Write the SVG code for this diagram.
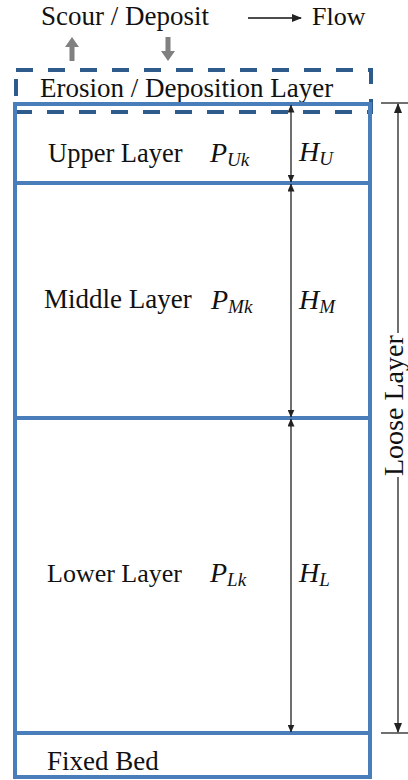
<svg xmlns="http://www.w3.org/2000/svg" width="408" height="780" viewBox="0 0 408 780">
<defs>
<marker id="ah" markerUnits="userSpaceOnUse" markerWidth="10" markerHeight="8" refX="9" refY="4" orient="auto-start-reverse">
<path d="M0,0 L10,4 L0,8 Z" fill="#222"/>
</marker>
<marker id="ahs" markerUnits="userSpaceOnUse" markerWidth="8" markerHeight="7" refX="7.5" refY="3.5" orient="auto-start-reverse">
<path d="M0,0 L8,3.5 L0,7 Z" fill="#222"/>
</marker>
</defs>

<g id="legend">
<text font-family="Liberation Serif" font-size="27" fill="#111" x="41" y="25">Scour / Deposit</text>
<path fill="#808080" d="M69.5,61 V47 H65 L72,37 L79,47 H74.5 V61 Z"/>
<path fill="#808080" d="M165.5,37 V51 H161 L168,61 L175,51 H170.5 V37 Z"/>
<line x1="248" y1="18" x2="301" y2="18" stroke="#111" stroke-width="1.5" marker-end="url(#ah)"/>
<text font-family="Liberation Serif" font-size="26" fill="#111" x="312" y="25">Flow</text>
</g>

<g id="erosion-layer">
<rect fill="none" stroke="#2e5a8c" stroke-width="4" stroke-dasharray="17 15" x="16" y="70" width="355" height="42"/>
<text font-family="Liberation Serif" font-size="27" fill="#111" x="40" y="97">Erosion / Deposition Layer</text>
</g>

<g id="upper-layer">
<rect fill="none" stroke="#4a7ebb" stroke-width="4" x="15" y="104" width="355" height="79"/>
<text font-family="Liberation Serif" font-size="26.5" fill="#111" x="48" y="162">Upper Layer</text>
<text font-family="Liberation Serif" font-style="italic" font-size="28" fill="#111" x="210" y="162">P<tspan font-size="19" dy="4">Uk</tspan></text>
<text font-family="Liberation Serif" font-style="italic" font-size="28" fill="#111" x="299" y="161">H<tspan font-size="19" dy="4">U</tspan></text>
</g>

<g id="middle-layer">
<rect fill="none" stroke="#4a7ebb" stroke-width="4" x="15" y="183" width="355" height="235"/>
<text font-family="Liberation Serif" font-size="27" fill="#111" x="44" y="308">Middle Layer</text>
<text font-family="Liberation Serif" font-style="italic" font-size="28" fill="#111" x="211" y="309">P<tspan font-size="19" dy="4">Mk</tspan></text>
<text font-family="Liberation Serif" font-style="italic" font-size="28" fill="#111" x="299" y="309">H<tspan font-size="19" dy="4">M</tspan></text>
</g>

<g id="lower-layer">
<rect fill="none" stroke="#4a7ebb" stroke-width="4" x="15" y="418" width="355" height="315"/>
<text font-family="Liberation Serif" font-size="26" fill="#111" x="47" y="582">Lower Layer</text>
<text font-family="Liberation Serif" font-style="italic" font-size="28" fill="#111" x="210" y="582">P<tspan font-size="19" dy="4">Lk</tspan></text>
<text font-family="Liberation Serif" font-style="italic" font-size="28" fill="#111" x="299" y="582">H<tspan font-size="19" dy="4">L</tspan></text>
</g>

<g id="fixed-bed">
<rect fill="none" stroke="#4a7ebb" stroke-width="4" x="15" y="733" width="355" height="44"/>
<text font-family="Liberation Serif" font-size="27" fill="#111" x="47" y="770">Fixed Bed</text>
</g>

<g id="connectors" fill="none" stroke="#222" stroke-width="1.3">
<line x1="291" y1="105" x2="291" y2="182" marker-start="url(#ahs)" marker-end="url(#ahs)"/>
<line x1="291" y1="184" x2="291" y2="417" marker-start="url(#ahs)" marker-end="url(#ahs)"/>
<line x1="291" y1="419" x2="291" y2="732" marker-start="url(#ahs)" marker-end="url(#ahs)"/>
<line x1="381" y1="103" x2="408" y2="103"/>
<line x1="381" y1="733" x2="408" y2="733"/>
<line x1="398" y1="333" x2="398" y2="104" marker-end="url(#ah)"/>
<line x1="398" y1="477" x2="398" y2="732" marker-end="url(#ah)"/>
</g>

<g id="loose-layer-label">
<text font-family="Liberation Serif" font-size="28" fill="#111" transform="translate(403,476) rotate(-90)">Loose Layer</text>
</g>
</svg>
